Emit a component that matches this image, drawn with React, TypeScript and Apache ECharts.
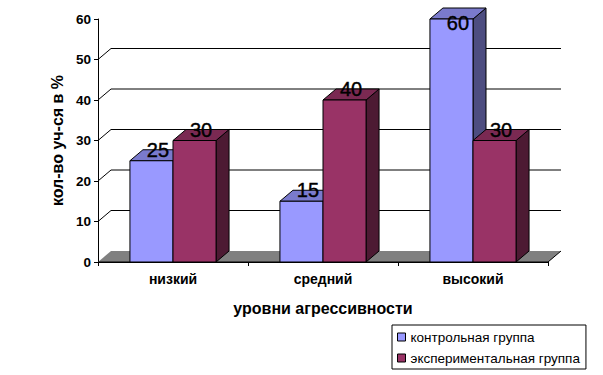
import React, { useEffect, useRef } from "react";
import * as echarts from "echarts";

const categories = ["низкий", "средний", "высокий"];
const seriesNames = ["контрольная группа", "экспериментальная группа"];
const controlValues = [25, 15, 60];
const experimentalValues = [30, 40, 30];
const gridTicks = [10, 20, 30, 40, 50];

const FRONT = ["#9999FF", "#993366"];
const TOP = ["#7A7ACC", "#7A2952"];
const SIDE = ["#4D4D80", "#4D1A33"];
const DX = 13;
const DY = -11;
const FONT = "'Liberation Sans', Arial, sans-serif";

function makeBarRender(s: number) {
  return (params: any, api: any) => {
    const cat = api.value(0);
    const val = api.value(1);
    const top = api.coord([cat, val]);
    const base = api.coord([cat, 0]);
    const band = api.size([1, 0])[0];
    const w = band * 0.287;
    const x0 = top[0] - w + s * w;
    const yt = top[1];
    const yb = base[1];
    const cs = params.coordSys;
    const stroke = { stroke: "#000", lineWidth: 1 };
    return {
      type: "group",
      children: [
        {
          type: "polygon",
          shape: {
            points: [
              [x0 + w, yt],
              [x0 + w, yb],
              [x0 + w + DX, yb + DY],
              [x0 + w + DX, yt + DY],
            ],
          },
          style: { fill: SIDE[s], ...stroke },
        },
        {
          type: "polygon",
          shape: {
            points: [
              [x0, yt],
              [x0 + w, yt],
              [x0 + w + DX, yt + DY],
              [x0 + DX, yt + DY],
            ],
          },
          style: { fill: TOP[s], ...stroke },
        },
        {
          type: "rect",
          shape: { x: x0, y: yt, width: w, height: yb - yt },
          style: { fill: FRONT[s], ...stroke },
        },
        {
          type: "text",
          z2: 100,
          style: {
            text: String(val),
            x: x0 + w / 2 + DX / 2,
            y: Math.max(yt + DY, cs.y + 3.5),
            align: "center",
            verticalAlign: "middle",
            fill: "#000",
            font: `20px ${FONT}`,
            stroke: "#000",
            lineWidth: 0.4,
          },
        },
      ],
    };
  };
}

export default function App() {
  const ref = useRef<HTMLDivElement>(null);
  useEffect(() => {
    if (!ref.current) return;
    const chart = echarts.init(ref.current, undefined, { renderer: "svg" });
    const option: any = {
      animation: false,
      backgroundColor: "#fff",
      textStyle: { fontFamily: FONT },
      grid: { left: 98, top: 19, width: 450, height: 243, containLabel: false },
      legend: {
        left: 392,
        top: 325,
        orient: "vertical",
        padding: [5, 6, 4, 5],
        itemGap: 7,
        itemWidth: 8,
        itemHeight: 8,
        borderColor: "#000",
        borderWidth: 1,
        icon: "rect",
        textStyle: { fontSize: 13.5, color: "#000", fontFamily: FONT },
        data: seriesNames.map((n, i) => ({
          name: n,
          itemStyle: { color: FRONT[i], borderColor: "#000", borderWidth: 1 },
        })),
      },
      xAxis: {
        type: "category",
        data: categories,
        name: "уровни агрессивности",
        nameLocation: "middle",
        nameGap: 38,
        nameTextStyle: { fontSize: 16, fontWeight: "bold", color: "#000", fontFamily: FONT },
        axisLine: { show: true, lineStyle: { color: "#000", width: 1 } },
        axisTick: { show: true, length: 4, lineStyle: { color: "#000" } },
        axisLabel: { fontSize: 14, fontWeight: "bold", color: "#000", margin: 10, fontFamily: FONT },
      },
      yAxis: {
        type: "value",
        min: 0,
        max: 60,
        interval: 10,
        name: "кол-во уч-ся в %",
        nameLocation: "middle",
        nameGap: 33,
        nameRotate: 90,
        nameTextStyle: { fontSize: 16, fontWeight: "bold", color: "#000", fontFamily: FONT },
        axisLine: { show: true, lineStyle: { color: "#000", width: 1 } },
        axisTick: { show: true, length: 4, lineStyle: { color: "#000" } },
        axisLabel: { fontSize: 13.5, fontWeight: "bold", color: "#000", margin: 7, fontFamily: FONT },
        splitLine: { show: false },
      },
      series: [
        {
          type: "custom",
          name: "grid-back",
          z: 1,
          silent: true,
          data: gridTicks.map((v) => [0, v]),
          renderItem: (params: any, api: any) => {
            const y = api.coord([0, api.value(1)])[1];
            const cs = params.coordSys;
            return {
              type: "polyline",
              shape: {
                points: [
                  [cs.x, y],
                  [cs.x + DX, y + DY],
                  [cs.x + cs.width + DX, y + DY],
                ],
              },
              style: { stroke: "#000", lineWidth: 1, fill: "none" },
            };
          },
        },
        {
          type: "custom",
          name: "floor",
          z: 1,
          silent: true,
          data: [[0, 0]],
          renderItem: (params: any, api: any) => {
            const y = api.coord([0, 0])[1];
            const cs = params.coordSys;
            return {
              type: "group",
              children: [
                {
                  type: "polygon",
                  shape: {
                    points: [
                      [cs.x, y],
                      [cs.x + cs.width, y],
                      [cs.x + cs.width + DX, y + DY],
                      [cs.x + DX, y + DY],
                    ],
                  },
                  style: { fill: "#808080" },
                },
                {
                  type: "line",
                  shape: { x1: cs.x + cs.width, y1: y, x2: cs.x + cs.width + DX, y2: y + DY },
                  style: { stroke: "#000", lineWidth: 1 },
                },
                {
                  type: "line",
                  shape: { x1: cs.x, y1: y, x2: cs.x + cs.width, y2: y },
                  style: { stroke: "#000", lineWidth: 1 },
                },
              ],
            };
          },
        },
        {
          type: "custom",
          name: seriesNames[0],
          z: 2,
          itemStyle: { color: FRONT[0] },
          data: controlValues.map((v, i) => [i, v]),
          renderItem: makeBarRender(0),
        },
        {
          type: "custom",
          name: seriesNames[1],
          z: 2,
          itemStyle: { color: FRONT[1] },
          data: experimentalValues.map((v, i) => [i, v]),
          renderItem: makeBarRender(1),
        },
      ],
    };
    chart.setOption(option);
    return () => chart.dispose();
  }, []);
  return (
    <div
      ref={ref}
      style={{ position: "absolute", left: 0, top: 0, width: 603, height: 375 }}
    />
  );
}
